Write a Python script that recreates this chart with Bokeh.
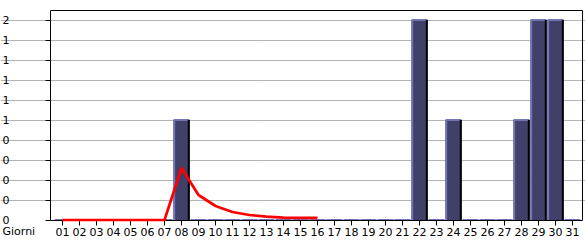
from bokeh.plotting import figure
from bokeh.models import Range1d, FixedTicker, Label, LinearAxis
from bokeh.embed import file_html
from bokeh.resources import INLINE

days = list(range(1, 32))
day_labels = ["%02d" % d for d in days]
bar_values = [0, 0, 0, 0, 0, 0, 0, 1, 0, 0, 0, 0, 0, 0, 0, 0,
              0, 0, 0, 0, 0, 2, 0, 1, 0, 0, 0, 1, 2, 2, 0]
trend_days = list(range(1, 17))
trend_values = [0, 0, 0, 0, 0, 0, 0, 0.52, 0.25, 0.14, 0.08, 0.05, 0.033, 0.023, 0.022, 0.022]
y_ticks = [0, 0.2, 0.4, 0.6, 0.8, 1.0, 1.2, 1.4, 1.6, 1.8, 2.0]
y_tick_labels = ["0", "0", "0", "0", "0", "1", "1", "1", "1", "1", "2"]

FONT = "DejaVu Sans"
W, H = 585, 240
PX_X = 17.0      # pixels per day
PX_Y = 100.0     # pixels per unit
ZERO_PX = 219.5  # pixel row of value 0
# plot-area box (value space)
x0 = 1 - 12 / PX_X
x1 = x0 + 532 / PX_X
y_top = (ZERO_PX - 10) / PX_Y

p = figure(width=W, height=H, output_backend="svg", toolbar_location=None,
           x_range=Range1d(x0 - 50 / PX_X, x0 + (W - 50) / PX_X),
           y_range=Range1d(-(H - ZERO_PX) / PX_Y, ZERO_PX / PX_Y),
           min_border_left=0, min_border_right=0, min_border_top=0, min_border_bottom=0)
p.background_fill_color = "white"
p.border_fill_color = "white"
p.outline_line_color = None

p.xgrid.visible = False
p.ygrid.ticker = FixedTicker(ticks=y_ticks[1:])
p.ygrid.grid_line_color = "#b4b4b4"
p.ygrid.grid_line_width = 1
p.ygrid.bounds = (x0, x1)

p.yaxis.fixed_location = x0
p.yaxis.bounds = (0, y_top)
p.yaxis.ticker = FixedTicker(ticks=y_ticks)
p.yaxis.major_label_overrides = {t: l for t, l in zip(y_ticks, y_tick_labels)}
p.yaxis.major_tick_out = 5
p.yaxis.major_tick_in = 0
p.yaxis.minor_tick_line_color = None
p.yaxis.major_label_standoff = 36
p.xaxis.fixed_location = 0
p.xaxis.bounds = (x0, x1)
p.xaxis.ticker = FixedTicker(ticks=days)
p.xaxis.major_label_overrides = {d: l for d, l in zip(days, day_labels)}
p.xaxis.major_tick_out = 5
p.xaxis.major_tick_in = 0
p.xaxis.minor_tick_line_color = None
p.xaxis.major_label_standoff = 3
for ax in (p.xaxis, p.yaxis):
    ax.axis_line_color = "black"
    ax.major_tick_line_color = "black"
    ax.major_label_text_font = FONT
    ax.major_label_text_font_size = "11px"
    ax.major_label_text_color = "black"

top_axis = LinearAxis(fixed_location=y_top, bounds=(x0, x1), ticker=FixedTicker(ticks=[]),
                      axis_line_color="black")
right_axis = LinearAxis(fixed_location=x1, bounds=(0, y_top), ticker=FixedTicker(ticks=[]),
                        axis_line_color="black")
p.add_layout(top_axis, "above")
p.add_layout(right_axis, "right")

hw = 0.47
lefts = [d - hw for d in days]
rights = [d + hw for d in days]
p.quad(left=lefts, right=rights, bottom=0, top=bar_values,
       fill_color="#404068", line_color=None)
# light left & top edges, dark right edge
p.segment(x0=[l + 0.04 for l in lefts], y0=[0] * 31, x1=[l + 0.04 for l in lefts], y1=bar_values,
          line_color="#7474b4", line_width=2)
p.segment(x0=lefts, y0=bar_values, x1=rights, y1=bar_values,
          line_color="#7474b4", line_width=2)
p.segment(x0=[r - 0.04 for r in rights], y0=[0] * 31, x1=[r - 0.04 for r in rights], y1=bar_values,
          line_color="black", line_width=2)

trend = p.line(trend_days, trend_values, line_color="#ff0000", line_width=2.7)
trend.level = "overlay"

p.add_layout(Label(x=x0, y=0, x_offset=-48, y_offset=-11.7, text="Giorni",
                   text_font=FONT, text_font_size="11px", text_color="black",
                   text_baseline="middle"))

open("out.html", "w").write(file_html(p, INLINE))
